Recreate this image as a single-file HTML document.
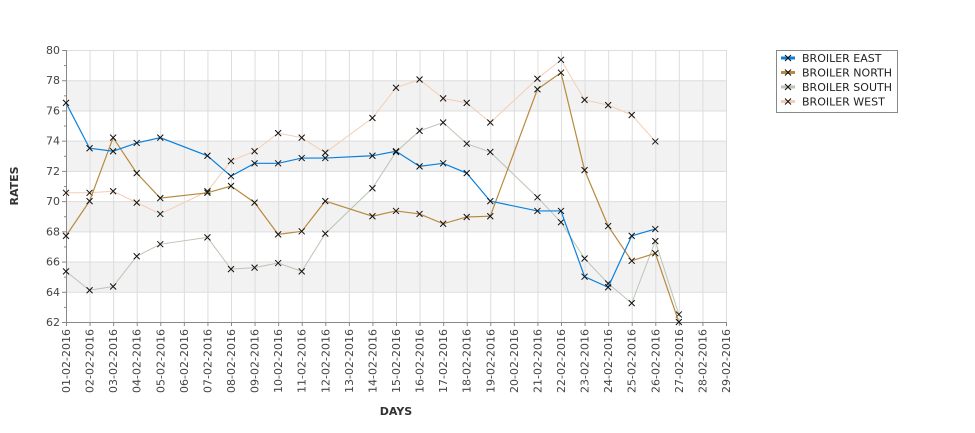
<!DOCTYPE html>
<html><head><meta charset="utf-8"><style>
body{margin:0;background:#fff;width:975px;height:429px;overflow:hidden;font-family:"DejaVu Sans","Liberation Sans",sans-serif}
</style></head><body>
<svg id="chart" width="975" height="429" xmlns="http://www.w3.org/2000/svg" font-family="DejaVu Sans, Liberation Sans, sans-serif">
<g id="grid"></g>
<g id="axes"></g>
<g id="series"></g>
<text x="18" y="186" font-size="11" font-weight="bold" fill="#333" text-anchor="middle" transform="rotate(-90 18 186)">RATES</text>
<text x="396" y="415" font-size="11" font-weight="bold" fill="#333" text-anchor="middle">DAYS</text>
<g id="legend">
<rect x="776.5" y="50.5" width="121" height="62" fill="#fff" stroke="#888"/>
</g>
</svg>
<script>
const days=[1,2,3,4,5,7,8,9,10,11,12,14,15,16,17,18,19,21,22,23,24,25,26,27];
const eastValues=[76.5,73.5,73.3,73.85,74.2,73.0,71.65,72.5,72.5,72.85,72.85,73.0,73.3,72.3,72.5,71.85,70.0,69.35,69.35,65.0,64.3,67.7,68.15,null];
const northValues=[67.7,70.0,74.2,71.85,70.2,70.55,71.0,69.9,67.8,68.0,70.0,69.0,69.35,69.15,68.5,68.95,69.0,77.4,78.5,72.05,68.35,66.05,66.55,62.0];
const southValues=[65.35,64.1,64.35,66.35,67.15,67.6,65.5,65.6,65.9,65.35,67.85,70.85,73.25,74.65,75.2,73.8,73.25,70.25,68.6,66.2,64.55,63.25,67.35,62.5];
const westValues=[70.55,70.55,70.65,69.9,69.15,70.65,72.65,73.3,74.5,74.2,73.2,75.5,77.5,78.05,76.8,76.5,75.2,78.1,79.35,76.7,76.35,75.7,73.95,null];
const yTicks=[62,64,66,68,70,72,74,76,78,80];
const xLabels=[];for(let d=1;d<=29;d++)xLabels.push(String(d).padStart(2,'0')+'-02-2016');
const seriesNames=['BROILER EAST','BROILER NORTH','BROILER SOUTH','BROILER WEST'];
const seriesColors=['#0a80dc','#b88a40','#b9c6b4','#f5cdb4'];
const seriesWidths=[1.2,1.2,1,1];
const X0=66,X1=726,Y0=322,Y1=50,YMIN=62,YMAX=80;
const xs=d=>X0+(d-1)*(X1-X0)/28;
const ys=v=>Y0-(v-YMIN)*(Y0-Y1)/(YMAX-YMIN);
const NS='http://www.w3.org/2000/svg';
function mk(tag,attrs,parent){const e=document.createElementNS(NS,tag);for(const k in attrs)e.setAttribute(k,attrs[k]);parent.appendChild(e);return e;}
const grid=document.getElementById('grid'),axes=document.getElementById('axes'),ser=document.getElementById('series'),leg=document.getElementById('legend');
for(let i=0;i<yTicks.length-1;i++){if(i%2===1){const r=mk('rect',{x:X0,y:ys(yTicks[i+1]),width:X1-X0,height:ys(yTicks[i])-ys(yTicks[i+1]),fill:'#f2f2f2'},grid);

}}
yTicks.forEach((v,i)=>{const l=mk('line',{x1:X0,x2:X1,y1:ys(v)+.5,y2:ys(v)+.5,stroke:'#ddd'},grid);


const t=mk('text',{x:X0-6,y:ys(v)+4,'font-size':11,fill:'#444','text-anchor':'end'},axes);t.textContent=v;


mk('line',{x1:X0-4,x2:X0,y1:ys(v)+.5,y2:ys(v)+.5,stroke:'#888'},axes);
if(i<yTicks.length-1)mk('line',{x1:X0-2,x2:X0,y1:ys(v+1)+.5,y2:ys(v+1)+.5,stroke:'#888'},axes);});
xLabels.forEach((lab,i)=>{const x=xs(i+1);const l=mk('line',{x1:x+.5,x2:x+.5,y1:Y1,y2:Y0,stroke:'#ddd'},grid);


mk('line',{x1:x+.5,x2:x+.5,y1:Y0,y2:Y0+4,stroke:'#888'},axes);
const t=mk('text',{x:x+4,y:Y0+7,'font-size':11,fill:'#444','text-anchor':'end',transform:`rotate(-90 ${x+4} ${Y0+7})`},axes);t.textContent=lab;

});
mk('line',{x1:X0+.5,x2:X0+.5,y1:Y1,y2:Y0,stroke:'#888'},axes);
mk('line',{x1:X0,x2:X1,y1:Y0+.5,y2:Y0+.5,stroke:'#888'},axes);
const all=[eastValues,northValues,southValues,westValues];
[3,2,1,0].forEach(si=>{const vals=all[si];let pts=[];days.forEach((d,i)=>{if(vals[i]!=null)pts.push([xs(d),ys(vals[i])]);});
const p=mk('polyline',{points:pts.map(p=>p.join(',')).join(' '),fill:'none',stroke:seriesColors[si],'stroke-width':seriesWidths[si]},ser);


pts.forEach(([x,y])=>{const m=mk('path',{d:`M${x-3},${y-3}L${x+3},${y+3}M${x-3},${y+3}L${x+3},${y-3}`,stroke:'#111','stroke-width':1},ser);

});});
seriesNames.forEach((n,i)=>{const y=58+i*14.5;const g=mk('g',{},leg);


mk('line',{x1:781,x2:795,y1:y,y2:y,stroke:seriesColors[i],'stroke-width':3},g);
mk('path',{d:`M785,${y-3}L791,${y+3}M785,${y+3}L791,${y-3}`,stroke:'#111'},g);
const t=mk('text',{x:802,y:y+4,'font-size':11,fill:'#222'},g);t.textContent=n;});
</script>
</body></html>
